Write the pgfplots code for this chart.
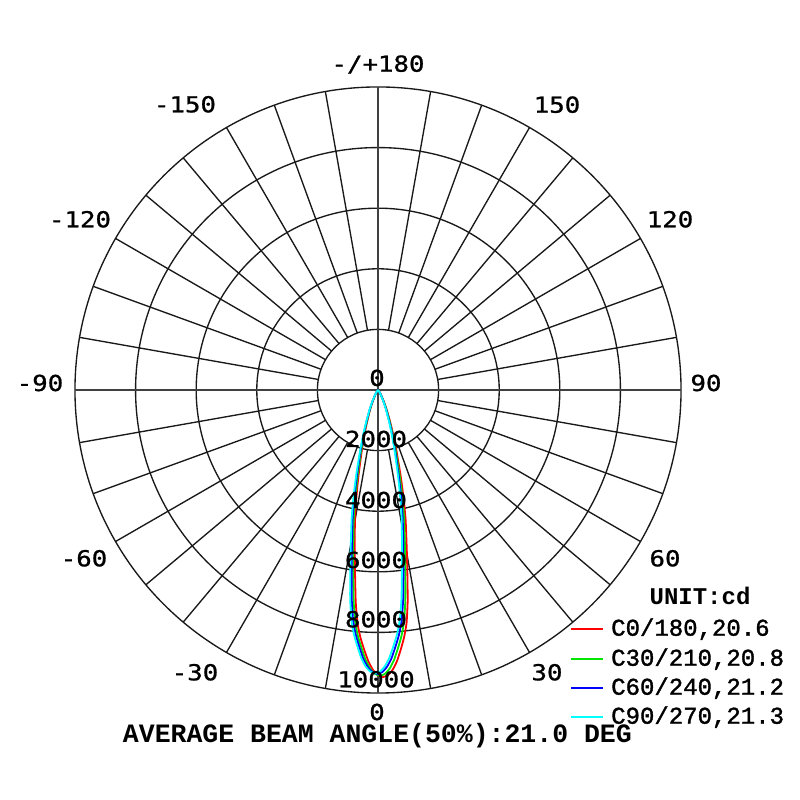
\documentclass[border=0pt]{standalone}
\usepackage{pgfplots}
\pgfplotsset{compat=1.18}
\usepackage{pgfplotstable}
\usepackage{fontspec}
\newfontfamily\labfont[FakeStretch=1.17, FakeBold=1]{DejaVu Sans Mono}
\newfontfamily\cfont{Liberation Mono}
\newfontfamily\legfont[FakeBold=1.5]{Liberation Mono}

\pgfplotstableread{
g I
-49 0
-41 20
-34 80
-29 190
-25 405
-22 685
-19 1100
-17 1510
-15 2065
-13 2820
-12 3295
-11 3830
-10 4385
-9 4890
-8 5495
-7 6200
-6 7035
-5 7740
-4 8215
-3 8600
-2 8970
-1 9245
0 9415
1 9475
2 9415
3 9245
4 8970
5 8600
6 8215
7 7740
8 7035
9 6200
10 5495
11 4890
12 4385
13 3830
14 3295
15 2820
17 2065
19 1510
21 1100
24 685
27 405
31 190
36 80
43 20
51 0
}\cred

\pgfplotstableread{
g I
-49.6 0
-41.6 20
-34.6 80
-29.6 190
-25.6 400
-22.6 680
-19.6 1095
-17.6 1505
-15.6 2055
-13.6 2810
-12.6 3280
-11.6 3810
-10.6 4365
-9.6 4865
-8.6 5465
-7.6 6170
-6.6 7000
-5.6 7705
-4.6 8175
-3.6 8555
-2.6 8925
-1.6 9200
-0.6 9370
0.4 9430
1.4 9370
2.4 9200
3.4 8925
4.4 8555
5.4 8175
6.4 7705
7.4 7000
8.4 6170
9.4 5465
10.4 4865
11.4 4365
12.4 3810
13.4 3280
14.4 2810
16.4 2055
18.4 1505
20.4 1095
23.4 680
26.4 400
30.4 190
35.4 80
42.4 20
50.4 0
}\cgreen

\pgfplotstableread{
g I
-50.15 0
-42.15 20
-35.15 80
-30.15 190
-26.15 400
-23.15 680
-20.15 1085
-18.15 1495
-16.15 2045
-14.15 2790
-13.15 3260
-12.15 3790
-11.15 4335
-10.15 4835
-9.15 5435
-8.15 6130
-7.15 6960
-6.15 7655
-5.15 8125
-4.15 8505
-3.15 8875
-2.15 9140
-1.15 9310
-0.15 9370
0.85 9310
1.85 9140
2.85 8875
3.85 8505
4.85 8125
5.85 7655
6.85 6960
7.85 6130
8.85 5435
9.85 4835
10.85 4335
11.85 3790
12.85 3260
13.85 2790
15.85 2045
17.85 1495
19.85 1085
22.85 680
25.85 400
29.85 190
34.85 80
41.85 20
49.85 0
}\cblue

\pgfplotstableread{
g I
-50.6 0
-42.6 20
-35.6 80
-30.6 190
-26.6 400
-23.6 675
-20.6 1085
-18.6 1490
-16.6 2040
-14.6 2785
-13.6 3255
-12.6 3780
-11.6 4330
-10.6 4825
-9.6 5425
-8.6 6120
-7.6 6945
-6.6 7640
-5.6 8110
-4.6 8485
-3.6 8855
-2.6 9125
-1.6 9295
-0.6 9355
0.4 9295
1.4 9125
2.4 8855
3.4 8485
4.4 8110
5.4 7640
6.4 6945
7.4 6120
8.4 5425
9.4 4825
10.4 4330
11.4 3780
12.4 3255
13.4 2785
15.4 2040
17.4 1490
19.4 1085
22.4 675
25.4 400
29.4 190
34.4 80
41.4 20
49.4 0
}\ccyan

\definecolor{cgr}{RGB}{0,230,0}
\definecolor{ccy}{RGB}{0,255,255}

\tikzset{
  grd/.style={draw=black!90, line width=1.35pt},
  lab/.style={font=\labfont\fontsize{22}{26}\selectfont, anchor=base, inner sep=0pt},
  leg/.style={font=\legfont\fontsize{24}{28}\selectfont, anchor=base west, inner sep=0pt},
}
\pgfplotsset{crv/.style={line width=1.8pt, smooth, tension=0.3}}

\begin{document}
\begin{tikzpicture}
\begin{axis}[
  width=800pt, height=800pt, scale only axis,
  xmin=-12474, xmax=13926, ymin=-13530, ymax=12870,
  hide axis, clip=false,
]
\path (rel axis cs:0,0) rectangle (rel axis cs:1,1);
% grid
\draw[grd] (axis cs:0,0) circle[radius=2000];
\draw[grd] (axis cs:0,0) circle[radius=4000];
\draw[grd] (axis cs:0,0) circle[radius=6000];
\draw[grd] (axis cs:0,0) circle[radius=8000];
\draw[grd] (axis cs:0,0) circle[radius=10000];
\pgfplotsinvokeforeach{0,10,...,350}{
  \draw[grd] (axis cs:{2000*cos(#1)},{2000*sin(#1)}) -- (axis cs:{10000*cos(#1)},{10000*sin(#1)});
}
\draw[grd, draw=black!75] (axis cs:-10000,0) -- (axis cs:10000,0);
\draw[grd, draw=black!75] (axis cs:0,-10000) -- (axis cs:0,10000);

% curves
\addplot[crv, red] table[x expr={\thisrow{I}*sin(\thisrow{g})}, y expr={-\thisrow{I}*cos(\thisrow{g})}] {\cred};
\addplot[crv, cgr] table[x expr={\thisrow{I}*sin(\thisrow{g})}, y expr={-\thisrow{I}*cos(\thisrow{g})}] {\cgreen};
\addplot[crv, blue] table[x expr={\thisrow{I}*sin(\thisrow{g})}, y expr={-\thisrow{I}*cos(\thisrow{g})}] {\cblue};
\addplot[crv, ccy] table[x expr={\thisrow{I}*sin(\thisrow{g})}, y expr={-\thisrow{I}*cos(\thisrow{g})}] {\ccyan};

% ring labels
\node[lab] at (axis cs:-33,135) {0};
\node[lab] at (axis cs:-66,-1881) {2000};
\node[lab] at (axis cs:-66,-3894) {4000};
\node[lab] at (axis cs:-66,-5874) {6000};
\node[lab] at (axis cs:-66,-7831) {8000};
\node[lab] at (axis cs:-66,-9811) {10000};

% angle labels
\node[lab] at (axis cs:0,10504) {-/+180};
\node[lab] at (axis cs:5907,9151) {150};
\node[lab] at (axis cs:9636,5369) {120};
\node[lab] at (axis cs:10824,-33) {90};
\node[lab] at (axis cs:9471,-5818) {60};
\node[lab] at (axis cs:5577,-9580) {30};
\node[lab] at (axis cs:-33,-10890) {0};
\node[lab] at (axis cs:-6039,-9580) {-30};
\node[lab] at (axis cs:-9702,-5818) {-60};
\node[lab] at (axis cs:-11154,-33) {-90};
\node[lab] at (axis cs:-9834,5369) {-120};
\node[lab] at (axis cs:-6369,9164) {-150};

% legend
\node[font=\cfont\bfseries\fontsize{24}{28}\selectfont, anchor=base, inner sep=0pt] at (axis cs:10626,-7095) {UNIT:cd};
\draw[red, line width=1.8pt] (axis cs:6369,-7887) -- (axis cs:7425,-7887);
\draw[cgr, line width=1.8pt] (axis cs:6369,-8877) -- (axis cs:7425,-8877);
\draw[blue, line width=1.8pt] (axis cs:6369,-9834) -- (axis cs:7425,-9834);
\draw[ccy, line width=1.8pt] (axis cs:6369,-10791) -- (axis cs:7425,-10791);
\node[leg] at (axis cs:7689,-8108) {C0/180,20.6};
\node[leg] at (axis cs:7689,-9098) {C30/210,20.8};
\node[leg] at (axis cs:7689,-10055) {C60/240,21.2};
\node[leg] at (axis cs:7689,-11012) {C90/270,21.3};

% bottom text
\node[font=\cfont\bfseries\fontsize{26.5}{30}\selectfont, anchor=base, inner sep=0pt] at (axis cs:-20,-11649) {AVERAGE BEAM ANGLE(50\%):21.0 DEG};
\end{axis}
\end{tikzpicture}
\end{document}
